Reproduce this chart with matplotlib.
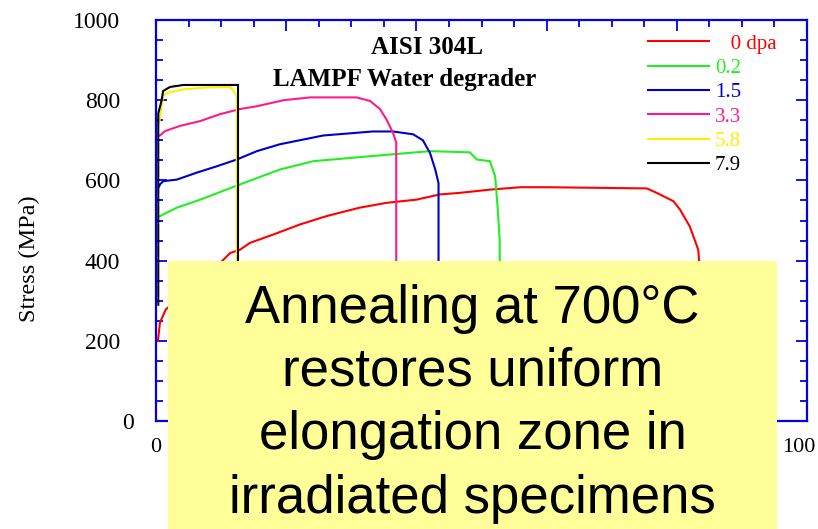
import matplotlib
matplotlib.use("Agg")
import matplotlib.pyplot as plt
from matplotlib.patches import Rectangle
from matplotlib.transforms import offset_copy

# ---------------- data ----------------
labels = ["   0 dpa", "0.2", "1.5", "3.3", "5.8", "7.9"]
colors = ["#ff0000", "#22ee22", "#0000cc", "#ff1a8c", "#ffee00", "#000000"]

red_x = [0.3, 0.6, 1.5, 10.1, 11.4, 12.9, 14.4, 18.0, 22.1, 26.2, 31.3, 35.4, 40.0, 43.6,
         46.7, 51.3, 56.0, 60.0, 75.4, 76.9, 79.5, 80.5, 82.0, 83.3, 83.5, 83.6]
red_y = [200, 245, 278, 398, 419, 427, 444, 465, 490, 511, 532, 544, 552, 565,
         569, 577, 583, 583, 580, 569, 548, 527, 485, 427, 380, 0]

green_x = [0.6, 3.2, 6.8, 12.9, 19.0, 24.2, 33.4, 42.1, 48.2, 49.3, 51.3, 52.1, 52.5, 52.8, 52.8]
green_y = [511, 532, 552, 590, 627, 648, 661, 673, 670, 652, 648, 610, 528, 450, 0]

blue_x = [0.5, 0.6, 1.1, 3.2, 6.2, 9.3, 12.4, 15.5, 19.0, 25.7, 33.3, 36.4, 39.5, 41.0,
          42.1, 42.9, 43.4, 43.4]
blue_y = [585, 590, 598, 602, 619, 635, 652, 673, 690, 712, 722, 722, 715, 700,
          668, 627, 593, 0]

pink_x = [0.6, 1.4, 3.7, 6.8, 9.8, 12.9, 15.5, 19.6, 23.7, 30.8, 32.9, 34.4, 35.4, 36.4, 36.9, 36.9]
pink_y = [712, 723, 736, 748, 765, 778, 785, 800, 807, 807, 798, 778, 752, 719, 694, 0]

yellow_x = [0.5, 0.6, 1.1, 1.9, 4.2, 7.8, 11.4, 11.9, 12.4, 12.4]
yellow_y = [745, 756, 811, 819, 827, 832, 833, 823, 811, 0]

black_x = [0.35, 0.35, 0.87, 1.1, 2.15, 4.2, 12.6, 12.6]
black_y = [290, 767, 800, 823, 833, 838, 838, 0]

series_x = [red_x, green_x, blue_x, pink_x, yellow_x, black_x]
series_y = [red_y, green_y, blue_y, pink_y, yellow_y, black_y]

x_ticks = [0, 20, 40, 60, 80, 100]
x_tick_labels = ["0", "", "", "", "", "100"]
y_ticks = [0, 200, 400, 600, 800, 1000]
y_tick_labels = ["0", "200", "400", "600", "800", "1000"]

note_lines = ["Annealing at 700°C", "restores uniform", "elongation zone in", "irradiated specimens"]

# ---------------- figure ----------------
W, H = 818, 529
fig = plt.figure(figsize=(W / 100, H / 100), dpi=100)
ax = fig.add_axes([156 / W, 1 - 421 / H, 651 / W, 401 / H])

serif = "Liberation Serif"
spine_blue = "#0000ee"

for xs, ys, c, lab in zip(series_x, series_y, colors, labels):
    ax.plot(xs, ys, color=c, lw=1.5, label=lab, solid_joinstyle="miter")

ax.set_xlim(0, 100)
ax.set_ylim(0, 1000)
ax.set_xticks(x_ticks)
ax.set_xticklabels(x_tick_labels, fontfamily=serif, fontsize=16)
ax.set_yticks(y_ticks)
ax.set_yticklabels(y_tick_labels, fontfamily=serif, fontsize=17)
ax.set_xticks(range(0, 101, 5), minor=True)
ax.set_yticks(range(0, 1001, 50), minor=True)

for s in ax.spines.values():
    s.set_color(spine_blue)
    s.set_linewidth(1.6)

ax.tick_params(which="both", direction="in", top=True, right=True,
               color=spine_blue, width=1.3, labelcolor="black")
ax.tick_params(which="major", length=8)
ax.tick_params(which="minor", length=5)
ax.tick_params(axis="y", which="major", pad=26)
ax.tick_params(axis="x", which="major", pad=12)

leg = ax.legend(loc="upper left",
                bbox_to_anchor=((648 - 156) / 651, (421 - 34) / 401),
                borderaxespad=0, borderpad=0, frameon=False,
                handlelength=2.93, handletextpad=0.29, labelspacing=0.23,
                prop={"family": serif, "size": 15}, labelcolor="linecolor")
for l in leg.get_lines():
    l.set_linewidth(1.5)

# titles
fig.text(427 / W, 1 - 54 / H, "AISI 304L", ha="center", va="baseline",
         fontsize=18, fontweight="bold", fontfamily=serif)
fig.text(405 / W, 1 - 86 / H, "LAMPF Water degrader", ha="center", va="baseline",
         fontsize=18, fontweight="bold", fontfamily=serif)

# y label
fig.text(29 / W, 1 - 259 / H, "Stress (MPa)", rotation=90, ha="center", va="center",
         fontsize=17.5, fontfamily=serif)

# yellow note box
fig.patches.append(Rectangle((168 / W, 0), (777 - 168) / W, (529 - 261) / H,
                             transform=fig.transFigure, facecolor="#ffff99",
                             edgecolor="none", zorder=5))
baselines = [323, 386, 449.5, 513]
for line, b in zip(note_lines, baselines):
    fig.text(472.5 / W, 1 - b / H, line, ha="center", va="baseline",
             fontsize=38, fontfamily="Liberation Sans", color="black", zorder=6)

fig.canvas.draw()
for lab in ax.get_yticklabels():
    if lab.get_text() == "0":
        lab.set_transform(offset_copy(lab.get_transform(), fig=fig, x=14, y=0, units="dots"))
for lab in ax.get_xticklabels():
    if lab.get_text() == "100":
        lab.set_transform(offset_copy(lab.get_transform(), fig=fig, x=-8, y=0, units="dots"))

fig.savefig("out.png", dpi=100)
